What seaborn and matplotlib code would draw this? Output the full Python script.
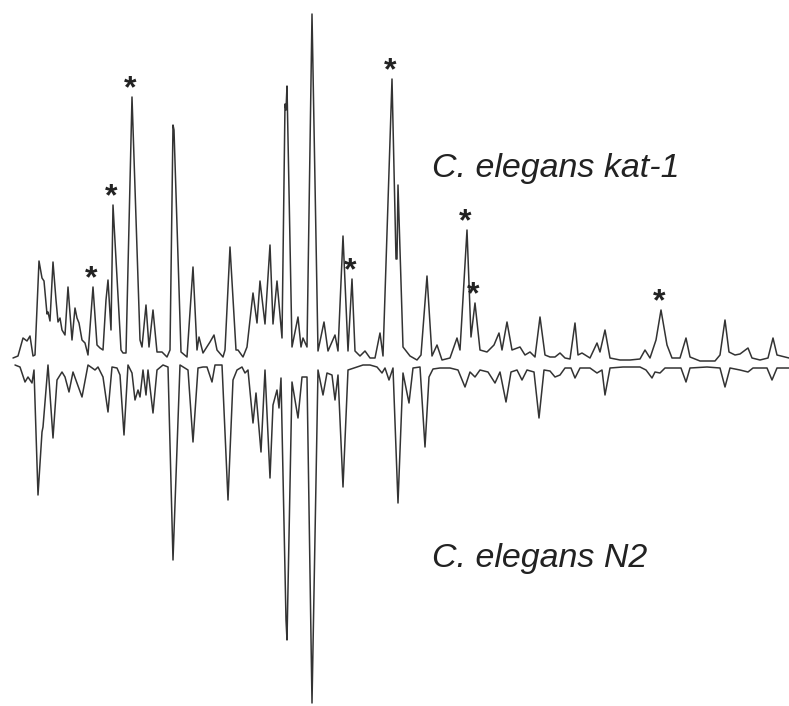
# mirrored chromatogram: C. elegans kat-1 (up) vs N2 (down)
import numpy as np
import pandas as pd
import matplotlib
matplotlib.use("Agg")
import matplotlib.pyplot as plt
import seaborn as sns

# kat-1 trace: retention (arbitrary units) and detector signal
kat1_rt = [13, 18, 23, 27, 30, 33, 35, 39, 42, 44, 47, 48, 50, 53, 56, 58, 60, 62, 65, 68,
           72, 75, 77, 79, 82, 85, 88, 93, 97, 100, 103, 106, 108, 111, 113, 121, 123, 126, 132, 140,
           142, 146, 149, 153, 157, 162, 167, 170, 173, 174, 181, 187, 193, 197, 199, 203, 210, 214, 217, 223,
           225, 230, 236, 238, 243, 247, 253, 257, 260, 265, 270, 273, 277, 282, 285, 286, 287, 292, 298, 301,
           303, 307, 312, 318, 324, 328, 335, 338, 343, 348, 352, 355, 360, 365, 370, 375, 380, 383, 392, 396,
           397, 398, 403, 410, 417, 421, 427, 432, 437, 442, 450, 457, 460, 467, 471, 475, 480, 487, 494, 499,
           502, 507, 512, 520, 525, 530, 535, 540, 545, 550, 555, 560, 565, 570, 575, 578, 582, 590, 597, 600,
           605, 610, 620, 630, 640, 645, 650, 656, 661, 667, 672, 680, 686, 690, 700, 715, 720, 725, 729, 735,
           740, 748, 752, 760, 768, 773, 777, 785, 789]
kat1_signal = [4, 6, 24, 21, 26, 6, 7, 101, 84, 81, 48, 50, 41, 100, 62, 40, 44, 32, 27, 75,
               22, 54, 44, 39, 22, 19, 7, 75, 17, 14, 12, 62, 82, 32, 157, 12, 9, 9, 265, 22,
               15, 57, 15, 52, 10, 10, 5, 12, 237, 232, 10, 5, 95, 12, 25, 9, 20, 27, 12, 5,
               12, 115, 12, 12, 5, 15, 69, 39, 81, 38, 117, 38, 81, 24, 258, 252, 276, 15, 45, 15,
               24, 15, 348, 11, 40, 11, 27, 11, 126, 11, 83, 11, 6, 11, 4, 4, 29, 6, 283, 103,
               103, 177, 15, 6, 2, 7, 86, 6, 17, 2, 4, 24, 12, 132, 25, 59, 12, 10, 17, 29,
               12, 40, 12, 15, 7, 10, 5, 45, 7, 5, 5, 9, 4, 3, 39, 7, 9, 4, 19, 10,
               32, 4, 2, 2, 3, 12, 4, 22, 52, 17, 4, 4, 24, 5, 1, 1, 7, 42, 10, 7,
               8, 14, 4, 2, 4, 24, 7, 5, 4]

# N2 trace: retention and signal (drawn mirrored below zero)
n2_rt = [15, 20, 25, 28, 32, 34, 38, 42, 43, 48, 53, 57, 62, 65, 69, 73, 77, 82, 88, 95,
         98, 103, 108, 112, 117, 120, 124, 128, 132, 135, 138, 140, 143, 146, 148, 153, 157, 163, 168, 173,
         180, 188, 193, 198, 203, 207, 212, 215, 222, 228, 233, 237, 242, 245, 248, 253, 256, 261, 265, 270,
         273, 277, 279, 281, 286, 287, 292, 295, 298, 302, 307, 312, 318, 323, 327, 332, 335, 338, 343, 348,
         357, 363, 370, 377, 382, 385, 389, 393, 398, 403, 409, 413, 420, 425, 429, 433, 440, 450, 458, 465,
         470, 475, 480, 488, 495, 500, 506, 511, 517, 522, 527, 534, 539, 544, 550, 555, 560, 565, 571, 575,
         580, 590, 597, 602, 605, 610, 623, 640, 646, 652, 655, 660, 665, 681, 686, 690, 707, 720, 725, 730,
         740, 748, 753, 767, 772, 777, 789]
n2_signal = [3, 5, 20, 15, 21, 8, 133, 70, 65, 3, 76, 18, 10, 15, 30, 10, 21, 35, 3, 8,
             5, 15, 50, 5, 6, 13, 73, 3, 11, 38, 28, 35, 8, 33, 8, 51, 8, 3, 5, 198,
             3, 8, 80, 6, 5, 5, 20, 3, 3, 138, 18, 8, 5, 11, 8, 61, 31, 90, 8, 116,
             43, 28, 46, 16, 258, 278, 20, 38, 56, 15, 15, 341, 8, 33, 11, 13, 38, 13, 125, 8,
             5, 3, 3, 5, 11, 6, 18, 6, 141, 11, 41, 6, 5, 85, 15, 7, 6, 6, 8, 25,
             10, 15, 8, 10, 21, 10, 40, 10, 8, 18, 8, 10, 56, 8, 9, 15, 13, 6, 6, 16,
             6, 6, 11, 8, 33, 6, 5, 5, 8, 16, 10, 11, 6, 6, 20, 6, 5, 6, 25, 6,
             8, 10, 6, 6, 18, 6, 6]

# peaks marked with an asterisk in the kat-1 trace
marked_rt = [93, 113, 132, 352, 392, 467, 475, 661]

labels = ["C. elegans kat-1", "C. elegans N2"]

sns.set_style("white")
plt.rcParams["font.family"] = ["Liberation Sans", "DejaVu Sans"]

kat1 = pd.DataFrame({"rt": kat1_rt, "signal": kat1_signal})
n2 = pd.DataFrame({"rt": n2_rt, "signal": -np.array(n2_signal)})

fig = plt.figure(figsize=(7.89, 7.06), dpi=100)
ax = fig.add_axes([0, 0, 1, 1])
line_col = "#333333"
sns.lineplot(data=kat1, x="rt", y="signal", ax=ax, color=line_col, lw=1.1,
             estimator=None, sort=False)
sns.lineplot(data=n2, x="rt", y="signal", ax=ax, color=line_col, lw=1.1,
             estimator=None, sort=False)

for rt in marked_rt:
    h = np.interp(rt, kat1_rt, kat1_signal)
    ax.annotate("*", (rt, h), xytext=(-1, 0), textcoords="offset points",
                ha="center", va="baseline", fontsize=23, fontweight="bold",
                color="#222222")

ax.text(432, 362 - 177, labels[0], fontsize=24.5, style="italic", color="#222222",
        ha="left", va="baseline")
ax.text(432, 362 - 567, labels[1], fontsize=24.5, style="italic", color="#222222",
        ha="left", va="baseline")

ax.set_xlim(0, 789)
ax.set_ylim(362 - 706, 362)
ax.axis("off")

fig.savefig("out.png", dpi=100)
